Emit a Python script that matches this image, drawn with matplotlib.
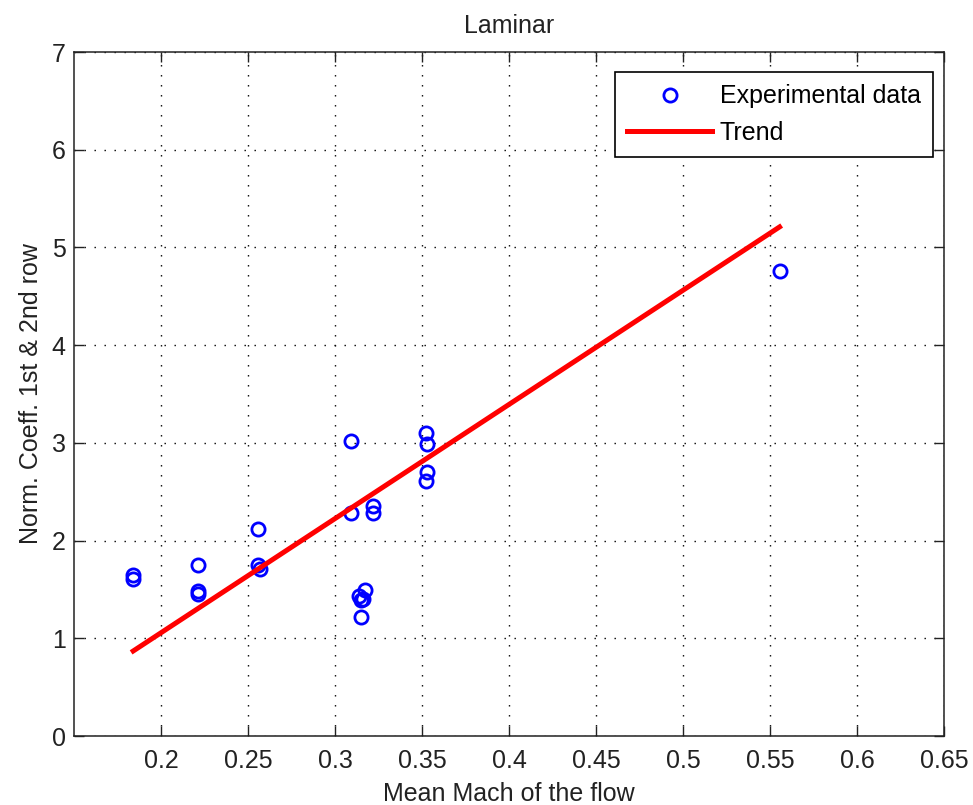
import matplotlib
matplotlib.use("Agg")
import matplotlib.pyplot as plt

plt.rcParams['font.family'] = ['Liberation Sans', 'DejaVu Sans']

# Measured points: mean Mach number vs. normalised coefficient
mach = [0.184, 0.184, 0.221, 0.221, 0.221, 0.2556, 0.2556, 0.2566,
        0.309, 0.309, 0.322, 0.322, 0.317, 0.314, 0.315, 0.316, 0.315,
        0.352, 0.353, 0.353, 0.352, 0.556]
coeff = [1.65, 1.61, 1.75, 1.48, 1.45, 2.12, 1.75, 1.71,
         3.02, 2.28, 2.35, 2.28, 1.49, 1.43, 1.39, 1.40, 1.22,
         3.10, 2.99, 2.70, 2.61, 4.76]

# Linear trend endpoints
trend_x = [0.184, 0.5555]
trend_y = [0.87, 5.21]

xticks = [0.2, 0.25, 0.3, 0.35, 0.4, 0.45, 0.5, 0.55, 0.6, 0.65]
xticklabels = ["0.2", "0.25", "0.3", "0.35", "0.4", "0.45", "0.5", "0.55", "0.6", "0.65"]
yticks = [0, 1, 2, 3, 4, 5, 6, 7]

fig = plt.figure(figsize=(9.73, 8.05), dpi=100)
ax = fig.add_axes([0.0761, 0.0857, 0.8941, 0.8497])

ax.plot(mach, coeff, 'o', color='blue', markerfacecolor='none',
        markersize=9.5, markeredgewidth=2, label='Experimental data')
ax.plot(trend_x, trend_y, '-', color='red', linewidth=3.6, label='Trend')

ax.set_xlim(0.15, 0.65)
ax.set_ylim(0, 7)
ax.set_xticks(xticks)
ax.set_xticklabels(xticklabels)
ax.set_yticks(yticks)

ax.grid(True, color='black', linestyle=(0, (1, 6.2)), linewidth=1)
ax.tick_params(direction='in', length=7, width=1, top=True, right=True,
               labelsize=18, colors='#222222')
ax.tick_params(axis='x', pad=9)
ax.tick_params(axis='y', pad=6)
for s in ax.spines.values():
    s.set_linewidth(1.1)
    s.set_color('#222222')

ax.set_title("Laminar", fontsize=18, pad=14, color='#222222')
ax.set_xlabel("Mean Mach of the flow", fontsize=18, labelpad=7, color='#222222')
ax.set_ylabel("Norm. Coeff. 1st & 2nd row", fontsize=18, labelpad=6, color='#222222')

leg = ax.legend(loc='upper right', bbox_to_anchor=(0.9874, 0.9708),
                borderaxespad=0, fontsize=18, fancybox=False, framealpha=1,
                handlelength=3.4, handletextpad=0.3, labelspacing=0.5,
                borderpad=0.5, edgecolor='black')
leg.get_frame().set_linewidth(1.2)

fig.savefig("out.png", dpi=100)
